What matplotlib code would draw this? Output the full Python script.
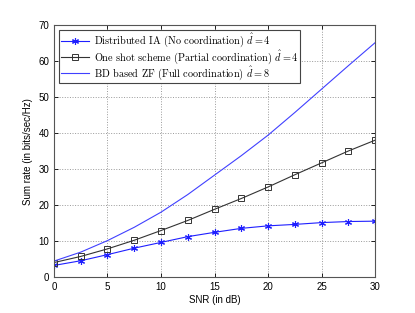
import numpy as np
import matplotlib.pyplot as plt

plt.rcParams['font.family'] = ['Liberation Sans', 'DejaVu Sans']
plt.rcParams['mathtext.fontset'] = 'cm'

snr = [0, 2.5, 5, 7.5, 10, 12.5, 15, 17.5, 20, 22.5, 25, 27.5, 30]
ia = [3.3, 4.6, 6.3, 8.1, 9.7, 11.3, 12.5, 13.6, 14.3, 14.7, 15.2, 15.5, 15.6]
oneshot = [4.1, 5.8, 7.9, 10.3, 13.0, 15.8, 18.9, 21.9, 25.1, 28.5, 31.8, 35.1, 38.1]
bdzf = [4.5, 7.0, 10.2, 13.9, 18.1, 23.0, 28.4, 33.8, 39.5, 45.8, 52.3, 58.8, 65.2]

fig = plt.figure(figsize=(4.15, 3.13), dpi=100)
ax = fig.add_axes([0.130, 0.114, 0.774, 0.805])

ax.plot(snr, ia, color='#1f1fff', marker=(6, 2, 0), markersize=5, markeredgewidth=0.8,
        linewidth=0.8, label=r'Distributed IA (No coordination) $\hat{d} = 4$')
ax.plot(snr, oneshot, color='#333333', marker='s', markersize=4.5, markerfacecolor='none',
        markeredgewidth=0.7, linewidth=0.8,
        label=r'One shot scheme (Partial coordination) $\hat{d} = 4$')
ax.plot(snr, bdzf, color='#4040ff', linewidth=0.8,
        label=r'BD based ZF (Full coordination) $\hat{d} = 8$')

ax.set_xlim(0, 30)
ax.set_ylim(0, 70)
ax.set_xticks(np.arange(0, 31, 5))
ax.set_yticks(np.arange(0, 71, 10))
ax.grid(True, linestyle=':', color='#999999', linewidth=0.7)
ax.tick_params(direction='in', top=True, right=True, labelsize=7, length=3, width=0.6)
for s in ax.spines.values():
    s.set_linewidth(0.8)
    s.set_color('#555555')
ax.set_xlabel('SNR (in dB)', fontsize=7, labelpad=2)
ax.set_ylabel('Sum rate (in bits/sec/Hz)', fontsize=7, labelpad=4)

leg = ax.legend(loc='upper left', prop={'family': 'cmr10', 'size': 7.4}, fancybox=False,
                edgecolor='#444444', framealpha=1, numpoints=1, handlelength=2.8,
                handletextpad=0.4, borderpad=0.15, labelspacing=-0.12, borderaxespad=0.5)
leg.get_frame().set_linewidth(0.8)

fig.savefig('out.png', dpi=100)
